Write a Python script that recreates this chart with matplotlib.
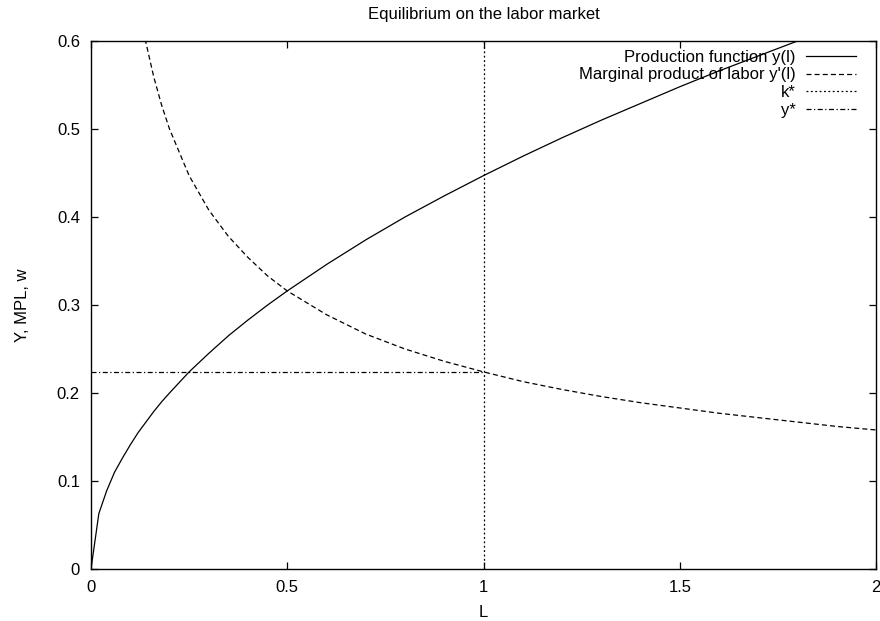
import matplotlib
matplotlib.use("Agg")
import matplotlib.pyplot as plt
import numpy as np

plt.rcParams['font.family'] = ['Liberation Sans', 'DejaVu Sans']

# Labor input grid and values
L = [0, 0.02, 0.04, 0.06, 0.08, 0.1, 0.12, 0.14, 0.16, 0.18, 0.2, 0.25, 0.3,
     0.35, 0.4, 0.45, 0.5, 0.6, 0.7, 0.8, 0.9, 1.0, 1.1, 1.2, 1.3, 1.4, 1.5,
     1.6, 1.7, 1.8, 1.9, 2.0]
production = [0, 0.063, 0.089, 0.110, 0.126, 0.141, 0.155, 0.167, 0.179, 0.190,
              0.200, 0.224, 0.245, 0.265, 0.283, 0.300, 0.316, 0.346, 0.374,
              0.400, 0.424, 0.447, 0.469, 0.490, 0.510, 0.529, 0.548, 0.566,
              0.583, 0.600, 0.616, 0.632]
mpl = [np.nan, 1.58, 1.118, 0.913, 0.790, 0.707, 0.645, 0.598, 0.559, 0.527,
       0.500, 0.447, 0.408, 0.378, 0.354, 0.333, 0.316, 0.289, 0.267, 0.250,
       0.236, 0.224, 0.213, 0.204, 0.196, 0.189, 0.183, 0.177, 0.172, 0.167,
       0.162, 0.158]
k_star_L = [1.0, 1.0]
k_star_y = [0.0, 0.6]
y_star_L = [0.0, 1.0]
y_star_y = [0.2236, 0.2236]

xticks = [0, 0.5, 1, 1.5, 2]
xticklabels = ["0", "0.5", "1", "1.5", "2"]
yticks = [0, 0.1, 0.2, 0.3, 0.4, 0.5, 0.6]
yticklabels = ["0", "0.1", "0.2", "0.3", "0.4", "0.5", "0.6"]

fs = 12
fig = plt.figure(figsize=(8.8, 6.21), dpi=100)
ax = fig.add_axes([91/880, 1-569/621, (876-91)/880, (569-41)/621])

lw = 0.9
ax.plot(L, production, color='black', lw=lw, ls='-', label='Production function y(l)')
ax.plot(L, mpl, color='black', lw=lw, ls=(0, (4, 2.5)), label="Marginal product of labor y'(l)")
ax.plot(k_star_L, k_star_y, color='black', lw=lw, ls=(0, (1.5, 2)), label='k*')
ax.plot(y_star_L, y_star_y, color='black', lw=lw, ls=(0, (4, 2, 1, 2)), label='y*')

ax.set_xlim(0, 2)
ax.set_ylim(0, 0.6)
ax.set_xticks(xticks)
ax.set_xticklabels(xticklabels)
ax.set_yticks(yticks)
ax.set_yticklabels(yticklabels)
ax.tick_params(direction='in', top=True, right=True, length=5, width=0.9,
               labelsize=fs)
ax.tick_params(axis='x', pad=8)
ax.tick_params(axis='y', pad=8)
for s in ax.spines.values():
    s.set_linewidth(1.0)

ax.set_title('Equilibrium on the labor market', fontsize=fs, pad=16)
ax.set_xlabel('L', fontsize=fs, labelpad=7)
ax.set_ylabel('Y, MPL, w', fontsize=fs, labelpad=19)

leg = ax.legend(loc='upper right', frameon=False, markerfirst=False,
                fontsize=fs, handlelength=3.0, handletextpad=0.65,
                labelspacing=0.16, borderpad=0.4, borderaxespad=0,
                bbox_to_anchor=(1 - 13/785, 1 - 2/528))

fig.savefig('out.png', dpi=100)
